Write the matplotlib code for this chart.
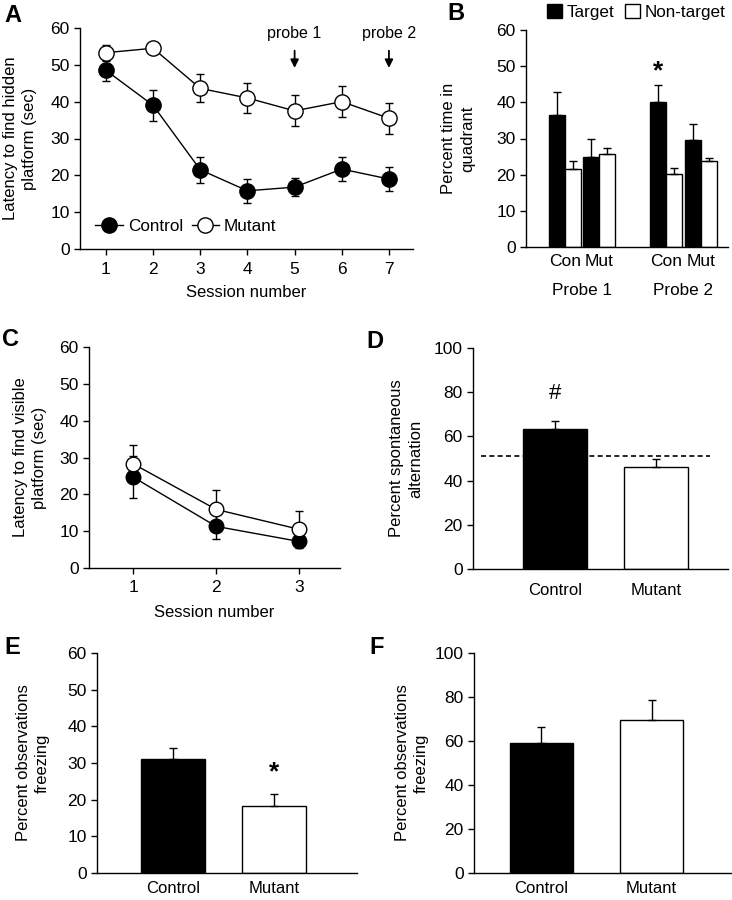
import matplotlib
matplotlib.use("Agg")
import matplotlib.pyplot as plt
from matplotlib.patches import Patch

plt.rcParams['font.family'] = ['Liberation Sans', 'DejaVu Sans']
plt.rcParams['font.size'] = 12

# ---- Data ----
# Panel A: hidden platform
sessions_a = [1, 2, 3, 4, 5, 6, 7]
ctrl_a = [48.5, 39.0, 21.5, 15.8, 16.8, 21.7, 19.0]
ctrl_a_err = [2.8, 4.3, 3.6, 3.3, 2.5, 3.2, 3.3]
mut_a = [53.3, 54.5, 43.6, 41.0, 37.5, 40.0, 35.5]
mut_a_err = [2.2, 0.6, 3.8, 4.2, 4.2, 4.2, 4.2]

# Panel B: probe trials
probes = ["Probe 1", "Probe 2"]
groups_b = ["Con", "Mut"]
target_b = [36.5, 24.8, 40.0, 29.6]
target_b_err = [6.3, 5.2, 4.7, 4.4]
nontarget_b = [21.5, 25.7, 20.3, 23.8]
nontarget_b_err = [2.3, 1.6, 1.6, 0.9]

# Panel C: visible platform
sessions_c = [1, 2, 3]
ctrl_c = [24.7, 11.3, 7.2]
ctrl_c_err = [5.6, 3.5, 1.0]
mut_c = [28.3, 15.9, 10.5]
mut_c_err = [5.1, 5.3, 5.1]

# Panel D: spontaneous alternation
groups = ["Control", "Mutant"]
alt_d = [63.5, 46.2]
alt_d_err = [3.6, 3.8]
chance_d = 51

# Panel E, F: freezing
freeze_e = [31.2, 18.3]
freeze_e_err = [3.0, 3.2]
freeze_f = [59.3, 69.5]
freeze_f_err = [7.2, 9.3]

W, H = 732, 900
fig = plt.figure(figsize=(W / 100, H / 100), dpi=100)

TICK_FS = 12.5
XLAB_FS = 12
YLAB_FS = 12
LEG_FS = 12.3
LETTER_FS = 17


def add_ax(l, r, t, b):
    return fig.add_axes([l / W, 1 - b / H, (r - l) / W, (b - t) / H])


def style(ax):
    for s in ['top', 'right']:
        ax.spines[s].set_visible(False)
    for s in ['left', 'bottom']:
        ax.spines[s].set_linewidth(1.0)
    ax.tick_params(direction='out', length=4, width=1, labelsize=TICK_FS)


def set_ylab(ax, text, xfrac):
    ax.set_ylabel(text, fontsize=YLAB_FS, linespacing=1.35)
    ax.yaxis.set_label_coords(xfrac, 0.5)


# ---- Panel A ----
axA = add_ax(80, 413, 28, 249)
style(axA)
axA.errorbar(sessions_a, ctrl_a, yerr=ctrl_a_err, fmt='none', ecolor='black',
             elinewidth=1, capsize=3, zorder=1)
axA.errorbar(sessions_a, mut_a, yerr=mut_a_err, fmt='none', ecolor='black',
             elinewidth=1, capsize=3, zorder=1)
axA.plot(sessions_a, ctrl_a, '-o', color='black', mfc='black', mec='black',
         ms=11, lw=1, zorder=3, label='Control')
axA.plot(sessions_a, mut_a, '-o', color='black', mfc='white', mec='black',
         ms=11, lw=1, zorder=3, label='Mutant')
axA.set_xlim(0.45, 7.51)
axA.set_ylim(0, 60)
axA.set_xticks(sessions_a)
axA.set_yticks(range(0, 61, 10))
axA.tick_params(axis='x', pad=5)
axA.set_xlabel("Session number", fontsize=XLAB_FS, labelpad=6)
set_ylab(axA, "Latency to find hidden\nplatform (sec)", -0.13)
axA.legend(loc='lower left', bbox_to_anchor=(0.0, 0.0), ncol=2, frameon=False,
           handlelength=1.6, handletextpad=0.3, columnspacing=0.5, fontsize=LEG_FS)
for x, lab in [(5, "probe 1"), (7, "probe 2")]:
    axA.text(x, 58.6, lab, ha='center', va='center', fontsize=11.5)
    axA.annotate("", xy=(x, 48.4), xytext=(x, 54.6),
                 arrowprops=dict(arrowstyle='-|>', color='black', lw=1.3,
                                 mutation_scale=12))
fig.text(4 / W, 1 - 16 / H, "A", fontsize=LETTER_FS, fontweight='bold', va='center')

# ---- Panel B ----
axB = add_ax(526, 728, 30, 247)
style(axB)
pair_centers = [0.0, 2.125, 6.3, 8.5]
bw = 1.0
xt = [c - bw / 2 for c in pair_centers]
xn = [c + bw / 2 for c in pair_centers]
axB.bar(xt, target_b, width=bw, color='black', edgecolor='black', lw=1,
        yerr=[[0] * 4, target_b_err], capsize=3,
        error_kw=dict(elinewidth=1, ecolor='black', capthick=1))
axB.bar(xn, nontarget_b, width=bw, color='white', edgecolor='black', lw=1,
        yerr=[[0] * 4, nontarget_b_err], capsize=3,
        error_kw=dict(elinewidth=1, ecolor='black', capthick=1))
axB.set_xlim(-2.44, 10.19)
axB.set_ylim(0, 60)
axB.set_yticks(range(0, 61, 10))
axB.set_xticks(pair_centers)
axB.set_xticklabels(groups_b * 2)
axB.tick_params(axis='x', length=0, pad=5)
set_ylab(axB, "Percent time in\nquadrant", -0.25)
for i, p in enumerate(probes):
    cx = (pair_centers[2 * i] + pair_centers[2 * i + 1]) / 2
    axB.text(cx, -11.9, p, ha='center', va='center', fontsize=12.3)
axB.text(xt[2], 48.5, "*", ha='center', va='center', fontsize=19, fontweight='bold')
handles_b = [Patch(facecolor='black', edgecolor='black', label='Target'),
             Patch(facecolor='white', edgecolor='black', label='Non-target')]
fig.legend(handles=handles_b, loc='center', bbox_to_anchor=(636 / W, 1 - 12 / H),
           ncol=2, frameon=False, handlelength=0.9, handleheight=0.9,
           handletextpad=0.25, columnspacing=0.6, fontsize=LEG_FS)
fig.text(447 / W, 1 - 14 / H, "B", fontsize=LETTER_FS, fontweight='bold', va='center')

# ---- Panel C ----
axC = add_ax(89, 340, 347, 568)
style(axC)
axC.errorbar(sessions_c, ctrl_c, yerr=ctrl_c_err, fmt='none', ecolor='black',
             elinewidth=1, capsize=3, zorder=1)
axC.errorbar(sessions_c, mut_c, yerr=mut_c_err, fmt='none', ecolor='black',
             elinewidth=1, capsize=3, zorder=1)
axC.plot(sessions_c, ctrl_c, '-o', color='black', mfc='black', mec='black',
         ms=10.5, lw=1, zorder=3)
axC.plot(sessions_c, mut_c, '-o', color='black', mfc='white', mec='black',
         ms=10.5, lw=1, zorder=4)
axC.set_xlim(0.47, 3.49)
axC.set_ylim(0, 60)
axC.set_xticks(sessions_c)
axC.set_yticks(range(0, 61, 10))
axC.tick_params(axis='x', pad=5)
axC.set_xlabel("Session number", fontsize=XLAB_FS, labelpad=7)
set_ylab(axC, "Latency to find visible\nplatform (sec)", -0.167)
fig.text(2 / W, 1 - 340 / H, "C", fontsize=LETTER_FS, fontweight='bold', va='center')


def bar_panel(ax, vals, errs, xlim, ylim, yticks, width, ylabel, lx, pad):
    style(ax)
    ax.bar([0, 1], vals, width=width, color=['black', 'white'], edgecolor='black', lw=1,
           yerr=[[0, 0], errs], capsize=3,
           error_kw=dict(elinewidth=1, ecolor='black', capthick=1), zorder=2)
    ax.set_xlim(*xlim)
    ax.set_ylim(*ylim)
    ax.set_yticks(yticks)
    ax.set_xticks([0, 1])
    ax.set_xticklabels(groups, fontsize=XLAB_FS)
    ax.tick_params(axis='x', length=0, pad=pad)
    set_ylab(ax, ylabel, lx)


# ---- Panel D ----
axD = add_ax(473, 728, 348, 569)
bar_panel(axD, alt_d, alt_d_err, (-0.81, 1.71), (0, 100), range(0, 101, 20), 0.63,
          "Percent spontaneous\nalternation", -0.196, 10)
axD.plot([-0.73, 1.53], [chance_d, chance_d], ls=(0, (3, 2)), color='black', lw=1.2,
         zorder=1)
axD.text(0, 79.5, "#", ha='center', va='center', fontsize=16)
fig.text(366 / W, 1 - 341 / H, "D", fontsize=LETTER_FS, fontweight='bold', va='center')

# ---- Panel E ----
axE = add_ax(97, 357, 653, 873)
bar_panel(axE, freeze_e, freeze_e_err, (-0.75, 1.82), (0, 60), range(0, 61, 10), 0.63,
          "Percent observations\nfreezing", -0.181, 6)
axE.text(1, 27.5, "*", ha='center', va='center', fontsize=19, fontweight='bold')
fig.text(4 / W, 1 - 648 / H, "E", fontsize=LETTER_FS, fontweight='bold', va='center')

# ---- Panel F ----
axF = add_ax(474, 731, 653, 873)
bar_panel(axF, freeze_f, freeze_f_err, (-0.61, 1.72), (0, 100), range(0, 101, 20), 0.57,
          "Percent observations\nfreezing", -0.175, 6)
fig.text(369 / W, 1 - 648 / H, "F", fontsize=LETTER_FS, fontweight='bold', va='center')

fig.savefig("out.png", dpi=100)
